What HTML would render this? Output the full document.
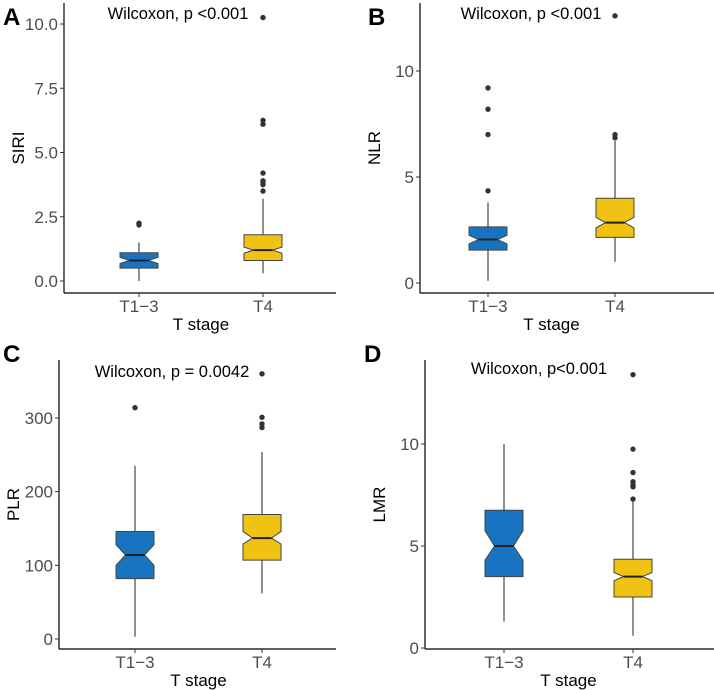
<!DOCTYPE html>
<html><head><meta charset="utf-8">
<style>
html,body{margin:0;padding:0;background:#fff}
svg{display:block;font-family:"Liberation Sans",Arial,sans-serif}
</style></head>
<body>
<svg id="fig" width="714" height="690" viewBox="0 0 714 690" xmlns="http://www.w3.org/2000/svg"></svg>
<script>
const categories = ["T1\u22123", "T4"];
// Panel A: SIRI
const siriQ1 = [0.5, 0.8], siriMed = [0.8, 1.2], siriQ3 = [1.1, 1.8];
const siriLo = [0.0, 0.3], siriHi = [1.5, 3.2];
const siriNotchLo = [0.68, 1.08], siriNotchHi = [0.92, 1.32];
const siriOut = [[2.18, 2.25], [3.5, 3.75, 3.85, 3.9, 4.2, 6.1, 6.25, 10.25]];
const siriTicks = [0, 2.5, 5, 7.5, 10];
const siriTickLabels = ["0.0", "2.5", "5.0", "7.5", "10.0"];
// Panel B: NLR
const nlrQ1 = [1.55, 2.15], nlrMed = [2.05, 2.85], nlrQ3 = [2.65, 4.0];
const nlrLo = [0.1, 1.0], nlrHi = [3.8, 6.7];
const nlrNotchLo = [1.85, 2.6], nlrNotchHi = [2.25, 3.1];
const nlrOut = [[4.35, 7.0, 8.2, 9.2], [6.85, 7.0, 12.6]];
const nlrTicks = [0, 5, 10];
const nlrTickLabels = ["0", "5", "10"];
// Panel C: PLR
const plrQ1 = [82, 107], plrMed = [114, 137], plrQ3 = [146, 169];
const plrLo = [3, 62], plrHi = [235, 254];
const plrNotchLo = [100, 129], plrNotchHi = [128, 146];
const plrOut = [[314], [287, 292, 301, 360]];
const plrTicks = [0, 100, 200, 300];
const plrTickLabels = ["0", "100", "200", "300"];
// Panel D: LMR
const lmrQ1 = [3.5, 2.5], lmrMed = [5.0, 3.5], lmrQ3 = [6.75, 4.35];
const lmrLo = [1.3, 0.6], lmrHi = [10.0, 7.3];
const lmrNotchLo = [4.3, 3.3], lmrNotchHi = [5.75, 3.7];
const lmrOut = [[], [7.3, 7.9, 8.0, 8.15, 8.6, 9.75, 13.4]];
const lmrTicks = [0, 5, 10];
const lmrTickLabels = ["0", "5", "10"];

const NS = "http://www.w3.org/2000/svg";
const svg = document.getElementById("fig");
const colors = ["#1874c1", "#efc213"];
function mk(tag, attrs, parent) {
  const e = document.createElementNS(NS, tag);
  for (const k in attrs) e.setAttribute(k, attrs[k]);
  (parent || svg).appendChild(e);
  return e;
}
function panel(cfg) {
  const g = mk("g", {});
  
  
  const y = v => cfg.y0 + (v - cfg.vmin) * (cfg.y1 - cfg.y0) / (cfg.vmax - cfg.vmin);
  const x = i => cfg.cx[i];
  const ya = mk("line", {x1: cfg.ax, x2: cfg.ax, y1: cfg.top, y2: cfg.bottom, stroke: "#000", "stroke-width": 1.2}, g);
  
  
  const xa = mk("line", {x1: cfg.ax, x2: cfg.right, y1: cfg.bottom, y2: cfg.bottom, stroke: "#000", "stroke-width": 1.2}, g);
  
  
  cfg.ticks.forEach((t, i) => {
    const tl = mk("line", {x1: cfg.ax - 4, x2: cfg.ax, y1: y(t), y2: y(t), stroke: "#333", "stroke-width": 1}, g);
    
    
    const tx = mk("text", {x: cfg.ax - 6, y: y(t) + 6, "text-anchor": "end", "font-size": 17, fill: "#4d4d4d"}, g);
    tx.textContent = cfg.tickLabels[i];
    
    
  });
  categories.forEach((c, i) => {
    const tl = mk("line", {x1: x(i), x2: x(i), y1: cfg.bottom, y2: cfg.bottom + 4, stroke: "#333", "stroke-width": 1}, g);
    
    
    const tx = mk("text", {x: x(i), y: cfg.bottom + 19, "text-anchor": "middle", "font-size": 17, fill: "#4d4d4d"}, g);
    tx.textContent = c;
    
    
  });
  const xt = mk("text", {x: (x(0) + x(1)) / 2, y: cfg.bottom + 37, "text-anchor": "middle", "font-size": 17, fill: "#000"}, g);
  xt.textContent = "T stage";
  
  
  const ytx = cfg.ax - 40, yty = (cfg.top + cfg.bottom) / 2;
  const yt = mk("text", {x: ytx, y: yty, "text-anchor": "middle", "font-size": 17, fill: "#000", transform: `rotate(-90 ${ytx} ${yty})`}, g);
  yt.textContent = cfg.ylab;
  
  
  const pl = mk("text", {x: cfg.letterX, y: cfg.letterY, "font-size": 24, "font-weight": "bold", fill: "#000"}, g);
  pl.textContent = cfg.letter;
  
  
  const st = mk("text", {x: cfg.statX, y: cfg.statY, "text-anchor": "middle", "font-size": 16.5, fill: "#000"}, g);
  st.textContent = cfg.stat;
  
  
  const hw = 19, nw = 9.5;
  categories.forEach((c, i) => {
    const cx = x(i);
    const wl = mk("line", {x1: cx, x2: cx, y1: y(cfg.lo[i]), y2: y(cfg.q1[i]), stroke: "#333", "stroke-width": 1.1}, g);
    
    
    const wh = mk("line", {x1: cx, x2: cx, y1: y(cfg.q3[i]), y2: y(cfg.hi[i]), stroke: "#333", "stroke-width": 1.1}, g);
    
    
    const q1 = y(cfg.q1[i]), q3 = y(cfg.q3[i]), m = y(cfg.med[i]), nl = y(cfg.nlo[i]), nh = y(cfg.nhi[i]);
    const pts = [[cx - hw, q1], [cx - hw, nl], [cx - nw, m], [cx - hw, nh], [cx - hw, q3], [cx + hw, q3], [cx + hw, nh], [cx + nw, m], [cx + hw, nl], [cx + hw, q1]];
    const bx = mk("polygon", {points: pts.map(p => p.join(",")).join(" "), fill: colors[i], stroke: "#444", "stroke-width": 1}, g);
    
    
    const md = mk("line", {x1: cx - nw, x2: cx + nw, y1: m, y2: m, stroke: "#222", "stroke-width": 2}, g);
    
    
    cfg.out[i].forEach(v => {
      const o = mk("circle", {cx: cx, cy: y(v), r: 2.7, fill: "#333"}, g);
      
      
    });
  });
}
panel({name: "siri", letter: "A", letterX: 3, letterY: 25, ylab: "SIRI", stat: "Wilcoxon, p <0.001", statX: 178, statY: 19,
  ax: 64, right: 336, top: 3, bottom: 293, cx: [139, 263], vmin: 0, vmax: 10, y0: 281, y1: 24,
  ticks: siriTicks, tickLabels: siriTickLabels, q1: siriQ1, med: siriMed, q3: siriQ3, lo: siriLo, hi: siriHi, nlo: siriNotchLo, nhi: siriNotchHi, out: siriOut});
panel({name: "nlr", letter: "B", letterX: 368, letterY: 25, ylab: "NLR", stat: "Wilcoxon, p <0.001", statX: 531, statY: 19,
  ax: 420, right: 714, top: 3, bottom: 293, cx: [488, 615], vmin: 0, vmax: 10, y0: 283, y1: 71,
  ticks: nlrTicks, tickLabels: nlrTickLabels, q1: nlrQ1, med: nlrMed, q3: nlrQ3, lo: nlrLo, hi: nlrHi, nlo: nlrNotchLo, nhi: nlrNotchHi, out: nlrOut});
panel({name: "plr", letter: "C", letterX: 3, letterY: 362, ylab: "PLR", stat: "Wilcoxon, p = 0.0042", statX: 172, statY: 377,
  ax: 59, right: 336, top: 360, bottom: 649, cx: [135, 262], vmin: 0, vmax: 300, y0: 639, y1: 418,
  ticks: plrTicks, tickLabels: plrTickLabels, q1: plrQ1, med: plrMed, q3: plrQ3, lo: plrLo, hi: plrHi, nlo: plrNotchLo, nhi: plrNotchHi, out: plrOut});
panel({name: "lmr", letter: "D", letterX: 364, letterY: 362, ylab: "LMR", stat: "Wilcoxon, p<0.001", statX: 539, statY: 374,
  ax: 425, right: 714, top: 360, bottom: 649, cx: [504, 633], vmin: 0, vmax: 10, y0: 648, y1: 444,
  ticks: lmrTicks, tickLabels: lmrTickLabels, q1: lmrQ1, med: lmrMed, q3: lmrQ3, lo: lmrLo, hi: lmrHi, nlo: lmrNotchLo, nhi: lmrNotchHi, out: lmrOut});
</script>
</body></html>
